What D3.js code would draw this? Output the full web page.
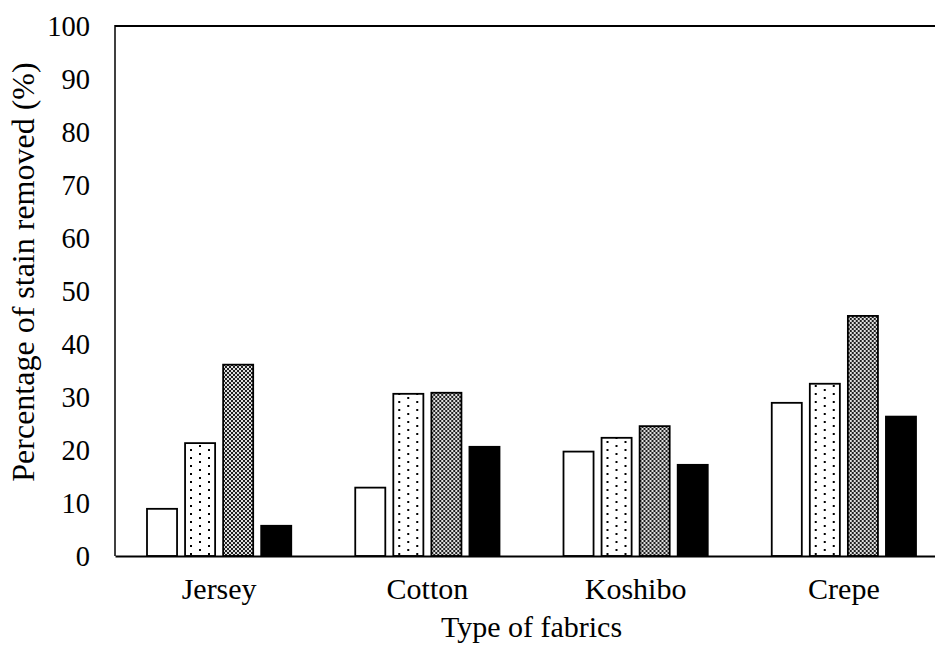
<!DOCTYPE html>
<html>
<head>
<meta charset="utf-8">
<script src="https://cdn.jsdelivr.net/npm/d3@7"></script>
<style>
  html, body { margin: 0; padding: 0; background: #fff; }
  svg { display: block; }
  text { font-family: "Liberation Serif", "Times New Roman", serif; fill: #000; }
</style>
</head>
<body>
<svg id="chart" width="935" height="646"></svg>
<script>
const categories = ["Jersey", "Cotton", "Koshibo", "Crepe"];
const seriesNames = ["S1", "S2", "S3", "S4"];
const s1 = [8.9, 12.9, 19.7, 28.9];
const s2 = [21.3, 30.6, 22.3, 32.5];
const s3 = [36.1, 30.8, 24.5, 45.3];
const s4 = [5.7, 20.6, 17.2, 26.3];
const yTicks = [0, 10, 20, 30, 40, 50, 60, 70, 80, 90, 100];

const seriesValues = [s1, s2, s3, s4];
const fills = ["#fff", "url(#dots)", "url(#checks)", "#000"];

const svg = d3.select("#chart");
const mLeft = 115, mTop = 26, mBottom = 556, mRight = 948;

const defs = svg.append("defs");
const dots = defs.append("pattern").attr("id", "dots").attr("patternUnits", "userSpaceOnUse")
  .attr("width", 18).attr("height", 8);
dots.append("rect").attr("width", 18).attr("height", 8).attr("fill", "#fff");
dots.append("rect").attr("x", 3).attr("y", 1).attr("width", 2).attr("height", 2).attr("fill", "#000");
dots.append("rect").attr("x", 12).attr("y", 5).attr("width", 2).attr("height", 2).attr("fill", "#000");

const checks = defs.append("pattern").attr("id", "checks").attr("patternUnits", "userSpaceOnUse")
  .attr("width", 4).attr("height", 4);
checks.append("rect").attr("width", 4).attr("height", 4).attr("fill", "#fff");
checks.append("rect").attr("x", 0).attr("y", 0).attr("width", 2).attr("height", 2).attr("fill", "#000");
checks.append("rect").attr("x", 2).attr("y", 2).attr("width", 2).attr("height", 2).attr("fill", "#000");
checks.append("rect").attr("x", 0).attr("y", 0).attr("width", 4).attr("height", 4).attr("fill", "#808080").attr("opacity", 0.25);

const x0 = d3.scaleBand().domain(categories).range([mLeft, mRight]).paddingInner(0).paddingOuter(0);
const x1 = d3.scaleBand().domain(seriesNames).range([32, x0.bandwidth() - 32]).paddingInner(8 / 38).paddingOuter(0);
const y = d3.scaleLinear().domain([0, 100]).range([mBottom, mTop]);

// bars
const groups = svg.append("g").selectAll("g").data(categories).join("g")
  .attr("transform", d => `translate(${x0(d)},0)`);
groups.selectAll("rect")
  .data((d, i) => seriesNames.map((s, j) => ({ s, j, v: seriesValues[j][i] })))
  .join("rect")
  .attr("x", d => x1(d.s))
  .attr("y", d => y(d.v))
  .attr("width", x1.bandwidth())
  .attr("height", d => y(0) - y(d.v))
  .attr("fill", d => fills[d.j])
  .attr("stroke", "#000")
  .attr("stroke-width", 1.8);

// frame
svg.append("line").attr("x1", mLeft).attr("x2", 935).attr("y1", mTop).attr("y2", mTop)
  .attr("stroke", "#000").attr("stroke-width", 2);
svg.append("line").attr("x1", mLeft).attr("x2", mLeft).attr("y1", mTop - 1).attr("y2", mBottom)
  .attr("stroke", "#000").attr("stroke-width", 1.5);

// y axis labels
const yAxis = d3.axisLeft(y).tickValues(yTicks).tickSize(0).tickPadding(25);
const gy = svg.append("g").attr("transform", `translate(${mLeft},0)`).call(yAxis);
gy.select(".domain").remove();
gy.selectAll("text").style("font-family", "Liberation Serif, serif").style("font-size", "28.5px").attr("fill", "#000");

// x axis
const xAxis = d3.axisBottom(x0).tickSize(0).tickPadding(22);
const gx = svg.append("g").attr("transform", `translate(0,${mBottom})`).call(xAxis);
gx.select(".domain").attr("stroke", "#000").attr("stroke-width", 2);
gx.selectAll("text").style("font-family", "Liberation Serif, serif").style("font-size", "30px").attr("fill", "#000");

// titles
svg.append("text").attr("x", (mLeft + mRight) / 2).attr("y", 637).attr("text-anchor", "middle")
  .style("font-size", "30px").text("Type of fabrics");
svg.append("text").attr("transform", `translate(34,272) rotate(-90)`).attr("text-anchor", "middle")
  .style("font-size", "32px").text("Percentage of stain removed (%)");
</script>
</body>
</html>
